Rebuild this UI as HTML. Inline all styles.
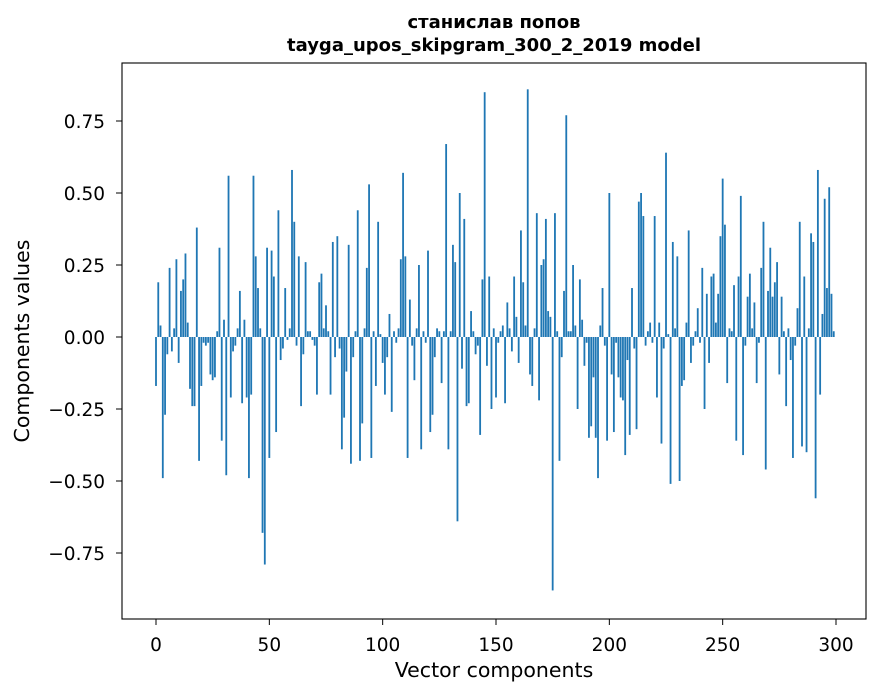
<!DOCTYPE html>
<html><head><meta charset="utf-8"><style>
body{margin:0;background:#fff;}
svg{display:block;font-family:"DejaVu Sans","Liberation Sans",sans-serif;}
</style></head><body>
<svg id="chart" width="880" height="696">
<rect x="0" y="0" width="880" height="696" fill="#fff"/>
<text x="494" y="28" text-anchor="middle" font-size="18" font-weight="bold">станислав попов</text>
<text x="494" y="51" text-anchor="middle" font-size="18" font-weight="bold">tayga_upos_skipgram_300_2_2019 model</text>
<g id="bars"></g>
<g id="xticks"></g>
<g id="yticks"></g>
<rect x="122" y="63" width="744" height="556" fill="none" stroke="#000" stroke-width="1.1"/>
<text x="494" y="677" text-anchor="middle" font-size="20.5">Vector components</text>
<text transform="translate(29,341) rotate(-90)" text-anchor="middle" font-size="20.5">Components values</text>
</svg>
<script>
const values = [
-0.17,0.19,0.04,-0.49,-0.27,-0.06,0.24,-0.05,0.03,0.27,
-0.09,0.16,0.2,0.29,0.05,-0.18,-0.24,-0.24,0.38,-0.43,
-0.17,-0.02,-0.03,-0.02,-0.13,-0.15,-0.14,0.02,0.31,-0.36,
0.06,-0.48,0.56,-0.21,-0.05,-0.03,0.03,0.16,-0.23,0.06,
-0.21,-0.49,-0.2,0.56,0.28,0.17,0.03,-0.68,-0.79,0.31,
-0.42,0.3,0.21,-0.33,0.44,-0.08,-0.04,0.17,-0.01,0.03,
0.58,0.4,-0.03,0.28,-0.24,-0.06,0.26,0.02,0.02,-0.01,
-0.03,-0.2,0.19,0.22,0.03,0.11,0.02,-0.2,0.33,-0.07,
0.35,-0.04,-0.39,-0.28,-0.12,0.32,-0.44,-0.07,0.02,0.44,
-0.43,-0.3,0.03,0.24,0.53,-0.42,0.02,-0.17,0.4,0.01,
-0.09,-0.2,-0.07,0.08,-0.26,0.02,-0.02,0.03,0.27,0.57,
0.28,-0.42,0.13,-0.03,-0.15,0.03,0.25,-0.39,0.02,-0.02,
0.3,-0.33,-0.27,-0.07,0.03,0.02,-0.16,0.02,0.67,-0.39,
0.02,0.32,0.26,-0.64,0.5,-0.11,0.41,-0.24,-0.23,0.09,
0.02,-0.06,-0.03,-0.34,0.2,0.85,-0.1,0.21,-0.25,0.03,
-0.21,-0.02,0.02,0.04,-0.23,0.12,0.03,-0.05,0.21,0.07,
-0.09,0.37,0.19,0.04,0.86,-0.13,-0.17,0.03,0.43,-0.22,
0.25,0.27,0.41,0.09,0.07,-0.88,0.43,0.02,-0.43,-0.07,
0.16,0.77,0.02,0.02,0.25,0.04,-0.25,0.2,0.06,-0.1,
-0.02,-0.35,-0.31,-0.14,-0.35,-0.49,0.04,0.17,-0.03,-0.36,
0.5,-0.13,-0.33,-0.02,-0.14,-0.21,-0.22,-0.41,-0.08,-0.34,
0.17,-0.04,-0.32,0.47,0.5,0.42,-0.03,0.02,0.05,-0.02,
0.42,-0.21,0.05,-0.37,-0.04,0.64,0.01,-0.51,0.33,0.03,
0.28,-0.5,-0.17,-0.15,0.05,0.37,-0.09,-0.03,0.02,0.1,
-0.02,0.24,-0.25,0.15,-0.09,0.21,0.22,0.05,0.15,0.35,
0.55,0.39,-0.16,0.03,0.02,0.18,-0.36,0.21,0.49,-0.41,
-0.03,0.14,0.22,0.03,0.12,-0.16,-0.02,0.24,0.4,-0.46,
0.16,0.31,0.14,0.19,0.26,-0.13,0.14,0.02,-0.24,0.03,
-0.08,-0.42,-0.03,0.1,0.4,-0.38,0.21,-0.4,0.03,0.36,
0.33,-0.56,0.58,-0.2,0.08,0.48,0.17,0.52,0.15,0.02
];
const xTicks = [0,50,100,150,200,250,300];
const yTicks = [-0.75,-0.5,-0.25,0,0.25,0.5,0.75];
const yTickLabels = ["\u22120.75","\u22120.50","\u22120.25","0.00","0.25","0.50","0.75"];

const NS="http://www.w3.org/2000/svg";
const xs = v => 156 + v*2.2667;
const ys = v => 337 - v*288;
const bars=document.getElementById('bars');
values.forEach((v,i)=>{
  const r=document.createElementNS(NS,'rect');
  const y0=ys(Math.max(v,0)), y1=ys(Math.min(v,0));
  r.setAttribute('x',xs(i-0.4));
  r.setAttribute('y',y0);
  r.setAttribute('width',0.8*2.2667);
  r.setAttribute('height',Math.max(y1-y0,0.3));
  r.setAttribute('fill','#1f77b4');
  
  
  bars.appendChild(r);
});
const xg=document.getElementById('xticks');
xTicks.forEach(t=>{
  const l=document.createElementNS(NS,'line');
  l.setAttribute('x1',xs(t));l.setAttribute('x2',xs(t));
  l.setAttribute('y1',619);l.setAttribute('y2',625);
  l.setAttribute('stroke','#000');
  
  
  xg.appendChild(l);
  const tx=document.createElementNS(NS,'text');
  tx.setAttribute('x',xs(t));tx.setAttribute('y',651);
  tx.setAttribute('text-anchor','middle');tx.setAttribute('font-size','18.5');
  tx.textContent=t;
  
  
  xg.appendChild(tx);
});
const yg=document.getElementById('yticks');
yTicks.forEach((t,k)=>{
  const l=document.createElementNS(NS,'line');
  l.setAttribute('x1',116);l.setAttribute('x2',122);
  l.setAttribute('y1',ys(t));l.setAttribute('y2',ys(t));
  l.setAttribute('stroke','#000');
  
  
  yg.appendChild(l);
  const tx=document.createElementNS(NS,'text');
  tx.setAttribute('x',105);tx.setAttribute('y',ys(t)+7);
  tx.setAttribute('text-anchor','end');tx.setAttribute('font-size','18.5');
  tx.textContent=yTickLabels[k];
  
  
  yg.appendChild(tx);
});
</script>
</body></html>
